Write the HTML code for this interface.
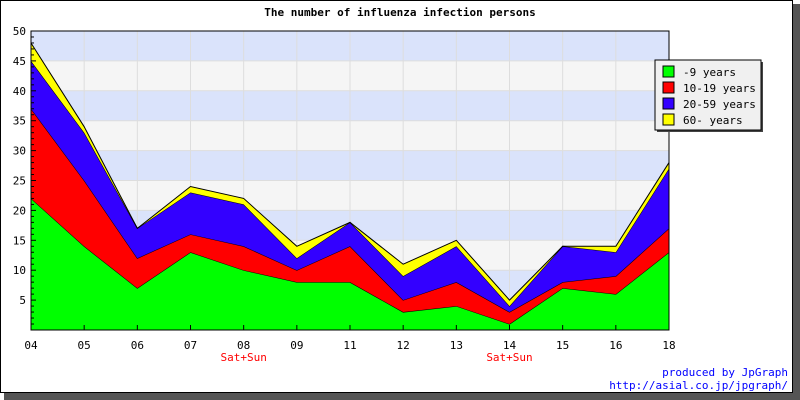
<!DOCTYPE html>
<html><head><meta charset="utf-8"><style>
body{margin:0;background:#fff;width:800px;height:400px;overflow:hidden}
svg{display:block;font-family:"DejaVu Sans Mono","Liberation Mono",monospace}
</style></head><body>
<svg width="800" height="400">
<rect x="4" y="4" width="796" height="396" fill="#555"/>
<rect x="0.5" y="0.5" width="792" height="392" fill="#fff" stroke="#000"/>
<text x="400" y="16" text-anchor="middle" font-size="11" font-weight="bold">The number of influenza infection persons</text>
<g id="plot"></g>
<g>
<rect x="657" y="62" width="106" height="70" fill="#444"/>
<rect x="655" y="60" width="106" height="70" fill="#f0f0f0" stroke="#000"/>
<g id="leg"></g>
</g>
<text x="788" y="376" text-anchor="end" font-size="11" fill="#00f">produced by JpGraph</text>
<text x="788" y="389" text-anchor="end" font-size="11" fill="#00f">http://asial.co.jp/jpgraph/</text>
</svg>
<script>
const categories=["04","05","06","07","08","09","11","12","13","14","15","16","18"];
const subLabels=["","","","","Sat+Sun","","","","","Sat+Sun","","",""];
const seriesNames=["-9 years","10-19 years","20-59 years","60- years"];
const s0=[22,14,7,13,10,8,8,3,4,1,7,6,13];
const s1=[15,11,5,3,4,2,6,2,4,2,1,3,4];
const s2=[8,8,5,7,7,2,4,4,6,1,6,4,10];
const s3=[3,1,0,1,1,2,0,2,1,1,0,1,1];
const yTicks=[5,10,15,20,25,30,35,40,45,50];
const colors=["#00ff00","#ff0000","#3300ff","#ffff00"];
const NS="http://www.w3.org/2000/svg";
const X0=31,X1=669,Y0=330,Y1=31,YMAX=50;
const xs=i=>X0+(X1-X0)*i/(categories.length-1);
const ys=v=>Y0-(Y0-Y1)*v/YMAX;
const g=document.getElementById('plot');
function mk(t,a,p){const e=document.createElementNS(NS,t);for(const k in a)e.setAttribute(k,a[k]);(p||g).appendChild(e);return e;}
for(let b=0;b<10;b++){const r=mk('rect',{x:X0,y:ys(50-b*5),width:X1-X0,height:ys(0)-ys(5),fill:b%2==0?'#dae3fb':'#f5f5f5'});

}
yTicks.forEach(v=>{const l=mk('line',{x1:X0,x2:X1,y1:ys(v),y2:ys(v),stroke:'#ddd'});

});
categories.forEach((c,i)=>{const l=mk('line',{x1:xs(i),x2:xs(i),y1:Y1,y2:Y0,stroke:'#ddd'});

});
const series=[s0,s1,s2,s3];
let cum=categories.map(()=>0);
const layers=[];
series.forEach(s=>{const prev=cum.slice();cum=cum.map((v,i)=>v+s[i]);layers.push([prev,cum.slice()]);});
layers.forEach((L,k)=>{const [lo,hi]=L;let pts=hi.map((v,i)=>xs(i)+','+ys(v));
for(let i=lo.length-1;i>=0;i--)pts.push(xs(i)+','+ys(lo[i]));
const p=mk('polygon',{points:pts.join(' '),fill:colors[k]});


const ln=mk('polyline',{points:hi.map((v,i)=>xs(i)+','+ys(v)).join(' '),fill:'none',stroke:'#000','stroke-width':1});

});
mk('rect',{x:X0,y:Y1,width:X1-X0,height:Y0-Y1,fill:'none',stroke:'#000'});
mk('line',{x1:X0,x2:X0,y1:Y1,y2:Y0,stroke:'#000'});
for(let v=1;v<=50;v++){mk('line',{x1:X0,x2:X0+(v%5==0?5:3),y1:ys(v),y2:ys(v),stroke:'#000'});}
yTicks.forEach(v=>{const t=mk('text',{x:X0-5,y:ys(v)+4,'text-anchor':'end','font-size':11});t.textContent=v;

});
categories.forEach((c,i)=>{mk('line',{x1:xs(i),x2:xs(i),y1:Y0,y2:Y0-5,stroke:'#000'});
const t=mk('text',{x:xs(i),y:349,'text-anchor':'middle','font-size':11});t.textContent=c;


if(subLabels[i]){const s=mk('text',{x:xs(i),y:361,'text-anchor':'middle','font-size':11,fill:'#f00'});s.textContent=subLabels[i];

}});
const lg=document.getElementById('leg');
seriesNames.forEach((n,k)=>{const y=66+k*16;
const r=mk('rect',{x:663,y:y,width:11,height:11,fill:colors[k],stroke:'#000'},lg);


const t=mk('text',{x:683,y:y+10,'font-size':11},lg);t.textContent=n;

});
</script>
</body></html>
